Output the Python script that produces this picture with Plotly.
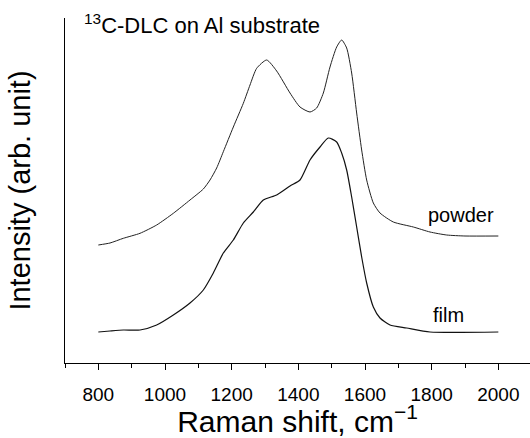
import plotly.graph_objects as go

# Raman shift (cm^-1) and intensities (arb. unit)
powder_shift = [800, 835, 875, 925, 975, 1025, 1075, 1115, 1135, 1155, 1175, 1205,
                1235, 1255, 1275, 1305, 1335, 1375, 1405, 1435, 1455, 1475, 1495,
                1515, 1530, 1545, 1560, 1575, 1590, 1605, 1625, 1645, 1685, 1745,
                1795, 1845, 1900, 2000]
powder_int = [118, 120, 124.7, 129.7, 138, 149.7, 163, 174, 183, 195, 211.3, 236,
              259.7, 278, 294.7, 303, 292, 270, 256, 251, 255, 270, 296,
              316, 323, 315, 290, 250, 213, 183, 160, 150, 141, 136,
              131, 128, 127, 127]

film_shift = [800, 835, 875, 925, 975, 1025, 1075, 1115, 1145, 1175, 1205, 1235,
              1265, 1295, 1335, 1375, 1405, 1435, 1465, 1490, 1515, 1530, 1545,
              1560, 1575, 1590, 1605, 1625, 1645, 1675, 1725, 1795, 2000]
film_int = [31, 32, 33, 33, 38, 48, 60, 73, 90, 110, 123, 140,
            151, 163, 168, 177, 183, 203, 216, 225, 221, 210, 193,
            166, 136, 106, 80, 56, 45, 38, 35, 31, 31]

FONT = "Liberation Sans, Arial, sans-serif"

fig = go.Figure()
fig.add_trace(go.Scatter(x=powder_shift, y=powder_int, mode="lines",
                         line=dict(color="#222222", width=1, shape="spline", smoothing=0.6),
                         showlegend=False, name="powder"))
fig.add_trace(go.Scatter(x=film_shift, y=film_int, mode="lines",
                         line=dict(color="#111111", width=1.2, shape="spline", smoothing=0.6),
                         showlegend=False, name="film"))

fig.add_annotation(x=1888, y=148, text="powder", showarrow=False,
                   font=dict(family=FONT, size=20, color="black"), xanchor="center", yanchor="middle")
fig.add_annotation(x=1849, y=48, text="film", showarrow=False,
                   font=dict(family=FONT, size=20, color="black"), xanchor="center", yanchor="middle")
fig.add_annotation(xref="paper", yref="paper", x=0.037, y=1.0, yanchor="bottom", xanchor="left",
                   yshift=-22,
                   text="<sup>13</sup>C-DLC on Al substrate", showarrow=False,
                   font=dict(family=FONT, size=22, color="black"))

fig.update_layout(
    width=530, height=438,
    margin=dict(l=65, r=0, t=18, b=75),
    paper_bgcolor="white", plot_bgcolor="white",
    font=dict(family=FONT, color="black"),
    xaxis=dict(range=[700, 2095], dtick=200, tick0=0, ticks="outside", ticklen=6,
               tickcolor="black", showline=True, linecolor="black", linewidth=1,
               showgrid=False, zeroline=False, ticklabelstandoff=8,
               tickfont=dict(family=FONT, size=19, color="black"),
               minor=dict(dtick=100, tick0=0, ticks="outside", ticklen=4, tickcolor="black"),
               title=dict(text="Raman shift, cm<sup>−1</sup>", standoff=6,
                          font=dict(family=FONT, size=30, color="black"))),
    yaxis=dict(range=[0, 345], showticklabels=False, ticks="", showline=True,
               linecolor="black", linewidth=1, showgrid=False, zeroline=False,
               title=dict(text="Intensity (arb. unit)", standoff=24,
                          font=dict(family=FONT, size=29, color="black"))),
)

fig.write_html("out.html")
